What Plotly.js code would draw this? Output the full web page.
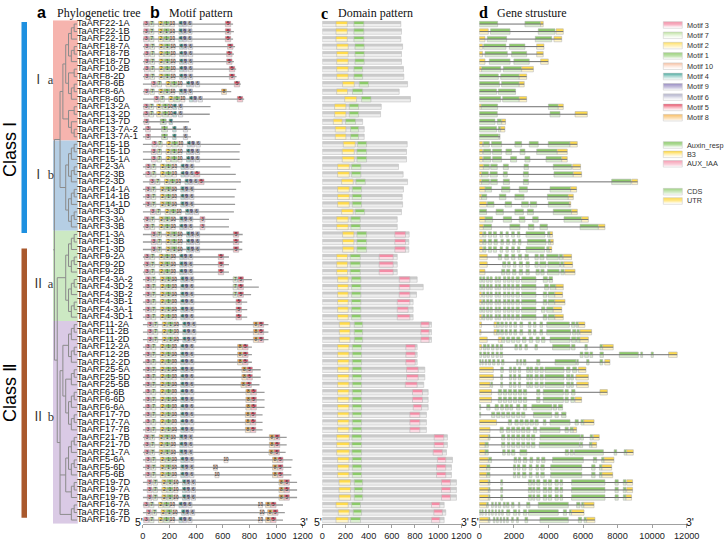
<!DOCTYPE html>
<html><head><meta charset="utf-8">
<script src="https://cdn.plot.ly/plotly-3.0.1.min.js"></script>
<style>html,body{margin:0;padding:0;background:#fff}#chart{width:725px;height:542px}</style>
</head><body><div id="chart"></div>
<script>
// ---------------- DATA ----------------
const genes = ["TaARF22-1A","TaARF22-1B","TaARF22-1D","TaARF18-7A","TaARF18-7B","TaARF18-7D","TaARF10-2B","TaARF8-2D","TaARF8-6B","TaARF8-6A","TaARF8-6D","TaARF13-2A","TaARF13-2D","TaARF13-7D","TaARF13-7A-2","TaARF13-7A-1","TaARF15-1B","TaARF15-1D","TaARF15-1A","TaARF2-3A","TaARF2-3B","TaARF2-3D","TaARF14-1A","TaARF14-1B","TaARF14-1D","TaARF3-3D","TaARF3-3A","TaARF3-3B","TaARF1-3A","TaARF1-3B","TaARF1-3D","TaARF9-2A","TaARF9-2D","TaARF9-2B","TaARF4-3A-2","TaARF4-3D-2","TaARF4-3B-2","TaARF4-3B-1","TaARF4-3A-1","TaARF4-3D-1","TaARF11-2A","TaARF11-2B","TaARF11-2D","TaARF12-2A","TaARF12-2B","TaARF12-2D","TaARF25-5A","TaARF25-5D","TaARF25-5B","TaARF6-6B","TaARF6-6D","TaARF6-6A","TaARF17-7D","TaARF17-7A","TaARF17-7B","TaARF21-7B","TaARF21-7D","TaARF21-7A","TaARF5-6A","TaARF5-6D","TaARF5-6B","TaARF19-7D","TaARF19-7A","TaARF19-7B","TaARF16-7A","TaARF16-7B","TaARF16-7D"];

// phylogenetic tree (topology)
const treeIa = "(((((22-1A,22-1B),22-1D),((18-7A,18-7B),18-7D)),((10-2B,8-2D),((8-6B,8-6A),8-6D))),((13-2A,13-2D),(13-7D,(13-7A-2,13-7A-1))))";
const treeIb = "((((15-1B,15-1D),15-1A),((2-3A,2-3B),2-3D)),(((14-1A,14-1B),14-1D),((3-3D,3-3A),3-3B)))";
const treeIIa = "((((1-3A,1-3B),1-3D),((9-2A,9-2D),9-2B)),(((4-3A-2,4-3D-2),4-3B-2),((4-3B-1,4-3A-1),4-3D-1)))";
const treeIIb = "(((((11-2A,11-2B),11-2D),((12-2A,12-2B),12-2D)),(((25-5A,25-5D),25-5B),(((6-6B,6-6D),6-6A),((17-7D,17-7A),17-7B)))),((((21-7B,21-7D),21-7A),((5-6A,5-6D),5-6B)),((19-7D,19-7A),19-7B)),((16-7A,16-7B),16-7D))";

const subgroupNames = ["Ⅰa","Ⅰb","Ⅱa","Ⅱb"];
const subgroupFirst = [0,16,28,40];
const subgroupLast  = [15,27,39,66];
const classNames = ["Class Ⅰ","Class Ⅱ"];

// protein length (aa)
const protLen = [678,684,678,693,684,684,701,704,736,664,761, 509,503,348,362,362, 733,727,727,658,698,736,701,690,693,684,647,647, 750,747,747,647,647,647,819,871,813,784,784,784, 943,943,943,819,819,819,885,885,876,914,914,914,899,899,899,1080,1080,1072,1124,1115,1115,1158,1158,1158,1052,1066,1052];

// motif start positions (aa); null = absent
const motif3Start = [8,8,8,13,13,13,13,13,65,11,86, 8,8,10,22,22, 70,65,65,23,23,53,22,22,22,58,14,14, 65,65,65,14,14,14,22,22,22,22,22,22, 37,37,37,22,22,22,22,22,22,22,22,22,22,22,22,14,14,14,22,22,22,34,34,34,8,28,8];
const motif7Start = [52,52,52,57,57,57,57,57,109,55,130, 50,50,null,null,null, 114,109,109,67,67,97,66,66,66,102,58,58, 109,109,109,58,58,58,66,66,66,66,66,66, 81,81,81,66,66,66,66,66,66,66,66,66,66,66,66,58,58,58,66,66,66,78,78,78,52,72,52];
const motif2Start = [118,118,118,123,123,123,123,123,175,121,196, 105,105,null,null,null, 180,175,175,133,133,163,132,132,132,168,124,124, 175,175,175,124,124,124,132,132,132,132,132,132, 147,147,147,132,132,132,132,132,132,132,132,132,132,132,132,124,124,124,132,132,132,144,144,144,118,138,118];
const motif1Start = [157,157,157,162,162,162,162,162,214,160,235, 148,148,132,142,142, 219,214,214,172,172,202,171,171,171,207,163,163, 214,214,214,163,163,163,171,171,171,171,171,171, 186,186,186,171,171,171,171,171,171,171,171,171,171,171,171,163,163,163,171,171,171,183,183,183,157,177,157];
const motif10Start = [208,208,208,213,213,213,213,213,265,211,286, 192,192,null,null,null, 270,265,265,223,223,253,222,222,222,258,214,214, 265,265,265,214,214,214,222,222,222,222,222,222, 237,237,237,222,222,222,222,222,222,222,222,222,222,222,222,214,214,214,222,222,222,234,234,234,208,228,208];
const motif4Start = [272,272,272,277,277,277,277,277,329,275,350, 228,228,198,225,225, 334,329,329,287,287,317,286,286,286,322,278,278, 329,329,329,278,278,278,286,286,286,286,286,286, 301,301,301,286,286,286,286,286,286,286,286,286,286,286,286,278,278,278,286,286,286,298,298,298,272,292,272];
const motif9Start = [302,302,302,307,307,307,307,307,359,305,380, null,null,null,null,null, 364,359,359,317,317,347,316,316,316,352,308,308, 359,359,359,308,308,308,316,316,316,316,316,316, 331,331,331,316,316,316,316,316,316,316,316,316,316,316,316,308,308,308,316,316,316,328,328,328,302,322,302];
const motif6Start = [338,338,338,343,343,343,343,343,395,341,416, 268,268,null,305,305, 400,395,395,353,353,383,352,352,352,388,344,344, 395,395,395,344,344,344,352,352,352,352,352,352, 367,367,367,352,352,352,352,352,352,352,352,352,352,352,352,344,344,344,352,352,352,364,364,364,338,358,338];
const motif5Start = [620,620,620,637,630,630,650,650,687,null,710, null,null,null,null,null, null,null,null,null,388,420,null,null,null,null,null,null, 680,680,680,567,567,567,715,715,715,700,700,700, 867,867,867,750,750,750,782,782,775,812,812,812,808,808,808,988,988,985,1012,1012,1012,1060,1060,1060,960,975,960];
const motif8Start = [null,null,null,null,null,null,null,null,null,592,null, null,null,null,null,null, null,null,null,null,null,null,null,null,null,null,null,null, null,null,null,null,null,null,null,null,null,null,null,null, 830,830,830,712,712,712,744,744,737,774,774,774,770,770,770,950,950,947,974,974,974,1022,1022,1022,922,937,922];
const motif7ExtraRows = [34,35,36];      const motif7ExtraStart = [678,678,678];
const motif3ExtraRows = [26,27];         const motif3ExtraStart = [430,430];
const motif10ExtraRows = [58,59,60,64,65,66]; const motif10ExtraStart = [610,530,542,868,880,868];
const motifIds = [3,7,2,1,10,4,9,6,5,8];
const motifWidth = [36,32,34,44,30,26,26,32,40,36];

// conserved domains (aa)
const b3Start = [118,118,118,124,124,124,124,124,175,124,193, 106,106,95,112,112, 181,172,172,132,132,167,132,132,132,167,124,124, 175,175,175,124,124,124,132,132,132,132,132,132, 147,147,147,132,132,132,132,132,132,132,132,132,132,132,132,124,124,124,132,132,132,144,144,144,118,138,118];
const b3End = [216,216,216,224,224,224,224,224,276,218,296, 204,204,172,204,204, 284,276,276,233,233,267,233,233,233,267,224,224, 273,273,273,218,218,218,224,224,224,224,224,224, 239,239,239,230,230,230,230,230,230,230,230,230,230,230,230,233,233,233,230,230,230,244,244,244,224,233,224];
const auxRespStart = [273,273,273,282,282,282,273,273,319,261,339, 233,233,201,244,244, 305,299,299,253,253,290,259,259,259,284,247,247, 299,299,299,241,241,241,253,253,253,253,253,253, 276,276,276,259,259,259,259,259,259,259,259,259,259,259,259,256,256,256,259,259,259,276,276,276,253,267,244];
const auxRespEnd = [359,359,359,362,362,362,348,348,399,348,420, 313,313,287,313,313, 382,382,382,333,333,371,339,339,339,365,328,328, 382,382,382,328,328,328,333,333,333,333,333,333, 348,348,348,339,339,339,339,339,339,339,339,339,339,339,339,339,339,339,339,339,339,348,348,348,330,339,330];
const auxIaaStart = [null,null,null,null,null,null,null,null,null,null,null, null,null,null,null,null, null,null,null,null,null,null,null,null,null,null,null,null, 626,626,626,491,491,491,664,664,664,647,647,647, 851,851,851,721,721,721,727,727,716,779,779,785,756,756,756,966,966,957,994,986,986,1029,1029,1029,943,963,943];
const auxIaaEnd = [null,null,null,null,null,null,null,null,null,null,null, null,null,null,null,null, null,null,null,null,null,null,null,null,null,null,null,null, 718,718,718,612,612,612,756,756,756,756,741,756, 922,922,922,802,802,802,828,828,819,865,865,857,842,842,842,1049,1049,1037,1066,1066,1066,1106,1106,1106,1014,1037,1014];

// gene structure (bp)
const geneLen = [3700,4860,4770,3740,3700,3990,3130,2740,2600,2100,2740, 4860,6250,1520,1480,1200, 5670,5090,5090,5860,5920,9160,5630,5440,5290,5670,6310,7270, 4240,4280,4190,5340,5400,5540,4240,4860,4820,4960,4770,4860, 6110,6500,6310,7750,11450,7560,6170,6310,6310,7410,5920,4820,5020,6640,5630,6940,6790,8910,7790,7660,7720,8870,8870,8810,6640,6060,6690];
const utrSegs = [
 [[3550,3700]],[[0,520],[4440,4860]],[[0,330],[4320,4770]],[[0,190],[3320,3740]],[[0,190],[3320,3700]],[[0,330],[3550,3990]],[[0,130],[2450,3130]],[[2310,2740]],[[2310,2600]],[],[[2310,2740]],
 [[0,100],[4570,4860]],[[5540,6250]],[[1300,1520]],[[1240,1480]],[],
 [[0,190],[5250,5670]],[[0,190],[4510,5090]],[[0,190],[4770,5090]],[[0,230],[5400,5860]],[[0,130],[5440,5920]],[[0,130],[8820,9160]],[[0,330],[5290,5630]],[[0,130],[5150,5440]],[[0,420],[5210,5290]],[[5340,5670]],[[0,330],[5920,6310]],[[0,230],[6890,7270]],
 [[0,190],[4090,4240]],[[0,190],[4130,4280]],[[0,190],[4050,4190]],[[0,460],[4860,5340]],[[0,460],[4900,5400]],[[0,330],[4950,5540]],[],[[4430,4860]],[[0,130],[4370,4820]],[[0,130],[4370,4960]],[[4280,4770]],[[0,130],[4370,4860]],
 [[0,130],[850,1000],[5730,6110]],[[0,100],[850,1000],[5830,6500]],[[0,460],[1100,1290],[5830,6310]],[[0,130],[7140,7750]],[[10950,11450]],[[7260,7560]],[[0,810],[5730,6170]],[[0,810],[5590,6310]],[[0,620],[5630,6310]],[[0,710],[6980,7410]],[[0,710],[5540,5920]],[],[],[[0,1000],[6050,6640]],[[0,620],[5440,5630]],[[0,520],[6600,6940]],[[0,330],[6520,6790]],[[0,330],[8530,8910]],[[0,520],[7220,7790]],[[0,420],[7100,7660]],[[0,420],[7100,7720]],[[0,520],[8530,8870]],[[0,520],[8530,8870]],[[0,520],[8490,8810]],[[0,420],[6050,6640]],[[5340,6060]],[[0,520],[6210,6690]]
];
const cdsSegs = [
 [[0,1060],[2640,3550]],[[650,1780],[3410,4380]],[[460,1580],[3240,4190]],[[250,1540],[1740,2640]],[[330,1620],[1870,2740]],[[580,1780],[2000,2890]],[[130,1240],[1390,2450]],[[0,1100],[1240,2310]],[[0,1160],[1290,2310]],[[0,1000],[1100,2100]],[[0,1240],[1350,2310]],
 [[100,1060],[4000,4570]],[[0,1040],[4090,4670]],[[0,910],[1040,1300]],[[0,1000],[1100,1240]],[[0,1120],[1160,1200]],
 [[230,580],[710,1290],[2060,2450],[2890,3410],[3990,5250]],
 [[230,660],[770,1290],[1540,1870],[2360,2640],[3320,4510]],
 [[230,660],[770,1290],[1810,2160],[2640,2930],[3860,4770]],
 [[230,580],[660,1040],[1390,1680],[2590,2840],[4280,5340]],
 [[130,520],[620,1040],[1390,1620],[2550,2840],[4320,5440]],
 [[130,580],[660,1040],[1390,1740],[2550,2840],[7660,8780]],
 [[330,710],[1290,1770],[2310,2780],[4090,5290]],
 [[130,430],[1160,1540],[2060,2590],[3940,5150]],
 [[460,850],[1490,1870],[2450,2840],[2940,3320],[3990,5210]],
 [[0,420],[970,1390],[2060,2550],[2780,3130],[4280,5340]],
 [[330,770],[1390,1870],[2310,2640],[3090,3410],[4900,5920]],
 [[230,710],[1770,2350],[2840,3160],[3510,3940],[5830,6890]],
 [[230,390],[520,710],[810,1000],[1200,1350],[1540,1680],[1870,2030],[2200,2350],[2700,3800],[3950,4090]],
 [[230,390],[520,710],[850,1040],[1250,1390],[1580,1740],[1930,2080],[2260,2410],[2780,3860],[3990,4130]],
 [[230,390],[520,710],[810,1000],[1200,1350],[1540,1680],[1870,2030],[2200,2350],[2700,3780],[3900,4050]],
 [[1100,1290],[1480,1680],[1870,2060],[2260,2450],[2640,2840],[3220,3410],[3510,3740],[3900,4570],[4630,4820]],
 [[1350,1540],[1640,1790],[1970,2120],[2310,2500],[2700,2890],[3220,3410],[3500,3860],[3970,4650],[4700,4880]],
 [[1290,1480],[1580,1770],[1930,2120],[2310,2500],[2700,2890],[3280,3470],[3560,3750],[3940,4620],[4720,4910]],
 [[0,135],[190,330],[420,560],[620,750],[910,1040],[1100,1240],[1390,1540],[1620,1780],[1870,2010],[2120,2320],[2450,3280],[3700,3940],[4030,4240]],
 [[0,135],[190,330],[420,560],[620,750],[910,1040],[1100,1240],[1390,1540],[1620,1780],[1870,2010],[2120,2320],[2450,3280],[3780,4000],[4090,4430]],
 [[190,330],[420,560],[620,750],[910,1040],[1100,1240],[1390,1540],[1620,1780],[1870,2010],[2120,2320],[2450,3280],[3700,3900],[3990,4370]],
 [[190,330],[420,560],[620,750],[910,1040],[1100,1240],[1390,1540],[1620,1780],[1870,2010],[2120,2320],[2450,3280],[3700,3900],[3990,4370]],
 [[0,135],[190,330],[420,560],[620,750],[910,1040],[1100,1240],[1390,1540],[1620,1780],[1870,2010],[2120,2320],[2450,3280],[3600,3800],[3900,4280]],
 [[190,330],[420,560],[620,750],[910,1040],[1100,1240],[1390,1540],[1620,1780],[1870,2010],[2120,2320],[2450,3280],[3700,3900],[3990,4370]],
 [[1000,1160],[1240,1390],[1490,1620],[1740,1870],[2000,2160],[2350,2510],[2840,2990],[3130,3280],[3510,3660],[3900,5210],[5340,5530],[5590,5730]],
 [[1000,1160],[1240,1390],[1490,1620],[1740,1870],[2000,2160],[2350,2510],[2840,2990],[3130,3280],[3510,3660],[3900,5280],[5400,5590],[5650,5790]],
 [[1290,1480],[1580,1770],[1870,2060],[2160,2350],[2500,2700],[2890,3090],[3280,3470],[3600,3800],[4090,5250],[5340,5590],[5630,5830]],
 [[230,390],[460,580],[710,850],[970,1100],[1200,1350],[2060,2200],[2310,2450],[2640,2780],[3220,3360],[4240,5250],[5340,5540],[6110,6250],[6980,7140]],
 [[0,130],[230,390],[460,580],[710,850],[970,1100],[1200,1350],[5830,6000],[6100,6310],[6400,6560],[6980,7180],[8100,9200],[9340,9450],[9940,10070]],
 [[0,100],[160,230],[330,430],[520,660],[770,910],[1040,1160],[1290,1430],[2160,2250],[2350,2450],[2550,2700],[3320,3510],[4380,5590],[5630,5730],[6210,6350],[6980,7140]],
 [[1240,1390],[1740,1870],[1970,2120],[2260,2390],[2740,2890],[2930,3090],[3220,3410],[3510,3700],[3800,4900],[5050,5250],[5400,5630]],
 [[1240,1350],[1740,1870],[1970,2120],[2260,2390],[2740,2890],[2930,3090],[3220,3410],[3510,3700],[3800,4900],[5050,5250],[5300,5440]],
 [[660,770],[1240,1350],[1740,1870],[1970,2120],[2260,2390],[2740,2890],[2930,3090],[3220,3410],[3510,3700],[3800,4900],[5050,5250],[5300,5440]],
 [[1100,1290],[1390,1580],[1680,1870],[1970,2160],[2260,2450],[2550,2740],[3320,3510],[3700,4860],[4960,5150],[5340,5540]],
 [[1100,1290],[1390,1580],[1680,1870],[1970,2160],[2260,2450],[2550,2740],[3320,3510],[3700,4860],[4960,5150],[5300,5500]],
 [[0,80],[430,620],[910,1100],[1240,1390],[1500,1680],[1770,1930],[2160,2350],[2550,2740],[3040,4200],[4280,4470],[4570,4820]],
 [[0,80],[710,900],[1000,1200],[1290,1480],[1580,1770],[1870,2060],[2160,2350],[2450,2640],[3130,4190],[4380,4570],[4760,5020]],
 [[1680,1870],[2060,2250],[2350,2540],[2640,2840],[2930,3130],[3220,3410],[3700,3860],[4090,5250],[5540,5730],[5880,6050]],
 [[1200,1390],[1580,1770],[1870,2060],[2160,2350],[2450,2640],[2740,2930],[3130,3320],[3510,4670],[4960,5150],[5250,5440]],
 [[520,620],[1290,1480],[1620,1770],[1870,2060],[2160,2350],[2450,2640],[2740,2930],[3020,3220],[3510,5830],[5870,6020],[6410,6560]],
 [[330,520],[1290,1480],[1620,1770],[1870,2060],[2160,2350],[2450,2640],[2740,2930],[3020,3220],[3470,5790],[5830,5980],[6370,6520]],
 [[330,520],[1350,1500],[1620,1770],[1870,2060],[2350,2750],[4970,5160],[5250,5440],[5500,7180],[7800,7950],[8380,8530]],
 [[520,710],[2010,2160],[2260,2390],[2550,2740],[2930,3090],[3320,3470],[3610,3800],[4240,6020],[6600,6790],[7080,7220]],
 [[420,620],[1970,2100],[2200,2350],[2500,2700],[2890,3050],[3280,3430],[3560,3760],[4130,5930],[6500,6700],[6950,7100]],
 [[420,620],[1970,2100],[2200,2350],[2500,2700],[2890,3050],[3280,3430],[3560,3760],[4130,5930],[6500,6700],[6950,7100]],
 [[520,620],[1240,1350],[2840,3030],[3090,3220],[3320,3510],[3700,3900],[3990,4190],[4380,4570],[4670,4820],[5340,7270],[7850,8040],[8330,8490]],
 [[520,620],[1240,1350],[2840,3030],[3090,3220],[3320,3510],[3700,3900],[3990,4190],[4380,4570],[4670,4820],[5340,7270],[7850,8040],[8330,8490]],
 [[520,620],[1240,1350],[2840,3030],[3090,3220],[3320,3510],[3700,3900],[3990,4190],[4380,4570],[4670,4820],[5340,7270],[7850,8040],[8330,8490]],
 [[420,520],[710,810],[910,1000],[1100,1240],[1390,1500],[1580,1720],[1870,2010],[2260,2350],[2740,2930],[3410,5150],[5630,5830],[5920,6050]],
 [[0,80],[140,230],[330,420],[520,620],[710,810],[910,1000],[1100,1200],[1290,1390],[1580,1770],[1970,2160],[2260,2350],[2550,2740],[2840,4570],[4860,5050],[5210,5340]],
 [[520,620],[810,910],[1000,1100],[1200,1290],[1390,1480],[1580,1680],[1870,1970],[2160,2260],[2640,2800],[3510,5150],[5730,5920],[6060,6210]]
];

const protTicks = [0,200,400,600,800,1000,1200];
const geneTicks = [0,2000,4000,6000,8000,10000,12000];

// ---------------- STYLE ----------------
const W = 725, H = 542;
const px = p => p / W, py = p => 1 - p / H;
const SANS = "Liberation Sans, Arial, sans-serif";
const SERIF = "Liberation Serif, Times New Roman, Noto Sans CJK SC, serif";
const motifColor = ['#F27C9A','#BDE3A0','#FFD633','#7CC355','#F9C4A8','#1E9688','#7565AD','#B2B2CC','#E8334F','#F7A52B'];
const colAux = '#7CC355', colB3 = '#FFD633', colIaa = '#F27C9A', colCDS = '#7CC355', colUTR = '#FFD633';
function mix(hex, t) {
  const n = parseInt(hex.slice(1), 16);
  let r = n >> 16 & 255, g = n >> 8 & 255, b = n & 255;
  r = Math.round(r + (255 - r) * t); g = Math.round(g + (255 - g) * t); b = Math.round(b + (255 - b) * t);
  return `rgb(${r},${g},${b})`;
}

const traces = [], shapes = [], annotations = [];

// ---------------- TREE ----------------
function parseNewick(s) {
  let i = 0;
  function node() {
    if (s[i] === '(') {
      i++; const ch = [node()];
      while (s[i] === ',') { i++; ch.push(node()); }
      i++; return { ch };
    }
    let name = '';
    while (i < s.length && !',()'.includes(s[i])) name += s[i++];
    return { name: name.trim() };
  }
  return node();
}
const root = parseNewick("((" + treeIa + "," + treeIb + "),(" + treeIIa + "," + treeIIb + "))");
function layoutTree(n) {
  if (n.name !== undefined) { n.y = genes.indexOf('TaARF' + n.name); n.h = 0; return; }
  n.ch.forEach(layoutTree);
  n.h = 1 + Math.max(...n.ch.map(c => c.h));
  n.y = (n.ch[0].y + n.ch[n.ch.length - 1].y) / 2;
}
layoutTree(root);
const tx = [], ty = [];
(function draw(n) {
  if (!n.ch) return;
  tx.push(-n.h, -n.h, null); ty.push(n.ch[0].y, n.ch[n.ch.length - 1].y, null);
  n.ch.forEach(c => { tx.push(-n.h, -c.h, null); ty.push(c.y, c.y, null); draw(c); });
})(root);
tx.push(-root.h - 0.4, -root.h, null); ty.push(root.y, root.y, null);
traces.push({ type: 'scatter', mode: 'lines', x: tx, y: ty, xaxis: 'x', yaxis: 'y',
  line: { color: '#8c8c8c', width: 1 }, hoverinfo: 'skip', cliponaxis: false });
traces.push({ type: 'scatter', mode: 'text', x: genes.map(() => 0), y: genes.map((g, i) => i), text: genes,
  textposition: 'middle right', textfont: { family: SANS, size: 9.2, color: '#111' },
  xaxis: 'x', yaxis: 'y', cliponaxis: false, hoverinfo: 'skip' });

// ---------------- helpers ----------------
function segBars(axis, rows, starts, ends, color, border) {
  const w = ends.map((e, k) => e - starts[k]);
  const h = 0.72;
  traces.push({ type: 'bar', orientation: 'h', xaxis: axis, yaxis: 'y', y: rows, x: w, base: starts, width: h,
    marker: { color: mix(color, 0.72), line: { width: 0 } }, hoverinfo: 'skip' });
  traces.push({ type: 'bar', orientation: 'h', xaxis: axis, yaxis: 'y', y: rows, x: w, base: starts, width: h * 0.5, offset: -h / 2,
    marker: { color: mix(color, 0.12), line: { width: 0 } }, hoverinfo: 'skip' });
  traces.push({ type: 'bar', orientation: 'h', xaxis: axis, yaxis: 'y', y: rows, x: w, base: starts, width: h,
    marker: { color: 'rgba(0,0,0,0)', line: { width: 0.6, color: border || '#b9b9b9' } }, hoverinfo: 'skip' });
}
function hLines(axis, lens, color, width) {
  const x = [], y = [];
  lens.forEach((L, i) => { x.push(0, L, null); y.push(i, i, null); });
  traces.push({ type: 'scatter', mode: 'lines', x, y, xaxis: axis, yaxis: 'y', line: { color, width }, hoverinfo: 'skip' });
}

// ---------------- b: motif pattern ----------------
hLines('x2', protLen, '#9a9a9a', 1.3);
const motifStarts = [motif3Start, motif7Start, motif2Start, motif1Start, motif10Start, motif4Start, motif9Start, motif6Start, motif5Start, motif8Start];
const extras = { 3: [motif3ExtraRows, motif3ExtraStart], 7: [motif7ExtraRows, motif7ExtraStart], 10: [motif10ExtraRows, motif10ExtraStart] };
const lblX = [], lblY = [], lblT = [];
motifIds.forEach((id, m) => {
  const rows = [], st = [], en = [];
  motifStarts[m].forEach((s, i) => { if (s !== null) { rows.push(i); st.push(s); en.push(s + motifWidth[m]); } });
  if (extras[id]) extras[id][0].forEach((r, k) => { rows.push(r); st.push(extras[id][1][k]); en.push(extras[id][1][k] + motifWidth[m]); });
  segBars('x2', rows, st, en, motifColor[m], '#b0b0b0');
  rows.forEach((r, k) => { lblX.push((st[k] + en[k]) / 2); lblY.push(r); lblT.push(String(id)); });
});
traces.push({ type: 'scatter', mode: 'text', x: lblX, y: lblY, text: lblT, xaxis: 'x2', yaxis: 'y',
  textfont: { family: SANS, size: 4.6, color: '#333' }, hoverinfo: 'skip', cliponaxis: false });

// ---------------- c: domain pattern ----------------
segBars('x3', genes.map((g, i) => i), protLen.map(() => 0), protLen, '#c4c4c4', '#c2c2c2');
segBars('x3', genes.map((g, i) => i), b3Start, b3End, colB3);
segBars('x3', genes.map((g, i) => i), auxRespStart, auxRespEnd, colAux);
(function () {
  const rows = [], s = [], e = [];
  auxIaaStart.forEach((v, i) => { if (v !== null) { rows.push(i); s.push(v); e.push(auxIaaEnd[i]); } });
  segBars('x3', rows, s, e, colIaa);
})();

// ---------------- d: gene structure ----------------
hLines('x4', geneLen, '#707070', 1);
(function () {
  const cr = [], cs = [], ce = [], ur = [], us = [], ue = [];
  cdsSegs.forEach((segs, i) => segs.forEach(([a, b]) => { cr.push(i); cs.push(a); ce.push(b); }));
  utrSegs.forEach((segs, i) => segs.forEach(([a, b]) => { ur.push(i); us.push(a); ue.push(b); }));
  segBars('x4', cr, cs, ce, colCDS);
  segBars('x4', ur, us, ue, colUTR);
})();

// ---------------- backgrounds & class bars ----------------
const groupFill = ['#F6B4AE', '#B5CEE4', '#CCE9C3', '#DACAE5'];
subgroupFirst.forEach((f, k) => {
  shapes.push({ type: 'rect', layer: 'below', xref: 'paper', yref: 'y', x0: px(53), x1: px(77.8), y0: f - 0.5, y1: subgroupLast[k] + 0.5, fillcolor: groupFill[k], line: { width: 0 } });
});
shapes.push({ type: 'rect', xref: 'paper', yref: 'y', x0: px(21.5), x1: px(27), y0: -0.27, y1: 27.8, fillcolor: '#1E90E0', line: { width: 0 } });
shapes.push({ type: 'rect', xref: 'paper', yref: 'y', x0: px(21.5), x1: px(27), y0: 29.85, y1: 65.7, fillcolor: '#A9592D', line: { width: 0 } });

// ---------------- text ----------------
function ann(text, x, y, opt) {
  annotations.push(Object.assign({ text, x: px(x), y: py(y), xref: 'paper', yref: 'paper', showarrow: false,
    xanchor: 'center', yanchor: 'middle', font: { family: SANS, size: 12, color: '#111' } }, opt || {}));
}
ann('<b>a</b>', 41, 12, { font: { family: SANS, size: 16, color: '#000' } });
ann('Phylogenetic tree', 55, 13, { xanchor: 'left', font: { family: SERIF, size: 12, color: '#111' } });
ann('<b>b</b>', 155, 12, { font: { family: SANS, size: 16, color: '#000' } });
ann('Motif pattern', 167, 13, { xanchor: 'left', font: { family: SERIF, size: 12, color: '#111' } });
ann('<b>c</b>', 324, 13, { font: { family: SERIF, size: 16, color: '#000' } });
ann('Domain pattern', 336, 13, { xanchor: 'left', font: { family: SERIF, size: 12, color: '#111' } });
ann('<b>d</b>', 483, 12, { font: { family: SERIF, size: 16, color: '#000' } });
ann('Gene strusture', 495, 13, { xanchor: 'left', font: { family: SERIF, size: 12, color: '#111' } });
ann(classNames[0], 10, 150, { textangle: -90, font: { family: SANS, size: 18, color: '#000' } });
ann(classNames[1], 10, 393, { textangle: -90, font: { family: SANS, size: 18, color: '#000' } });
const subY = [80, 175, 284, 417];
subgroupNames.forEach((n, k) => ann(n.replace(/([ⅠⅡ])/, '$1 '), 43, subY[k], { font: { family: SERIF, size: 12.5, color: '#333' } }));
// 5'/3' labels
[[139, 304], [318, 465], [475, 690]].forEach(([a, b]) => {
  ann("5'", a, 522, { font: { family: SANS, size: 10.5, color: '#111' } });
  ann("3'", b, 522, { font: { family: SANS, size: 10.5, color: '#111' } });
});

// ---------------- legend ----------------
function gradBox(cy, color) {
  const x0 = 663.3, x1 = 682.3, h = 6.6, n = 6;
  for (let k = 0; k < n; k++) {
    const t = k / (n - 1);
    shapes.push({ type: 'rect', xref: 'paper', yref: 'paper', x0: px(x0), x1: px(x1),
      y0: py(cy - h / 2 + h * k / n), y1: py(cy - h / 2 + h * (k + 1) / n), fillcolor: mix(color, 0.05 + 0.9 * t), line: { width: 0 } });
  }
  shapes.push({ type: 'rect', xref: 'paper', yref: 'paper', x0: px(x0), x1: px(x1), y0: py(cy - h / 2), y1: py(cy + h / 2),
    fillcolor: 'rgba(0,0,0,0)', line: { color: '#cfcfcf', width: 0.6 } });
}
const LEGFONT = { family: SANS, size: 7.3, color: '#333' };
const legMotifY = [25, 35.3, 45.6, 55.9, 66.2, 76.5, 86.8, 97.1, 107.4, 117.7];
motifIds.forEach((id, m) => {
  gradBox(legMotifY[m], motifColor[m]);
  ann('Motif ' + id, 684.5, legMotifY[m], { xanchor: 'left', font: LEGFONT });
});
const domNames = ['Auxin_resp', 'B3', 'AUX_IAA'], domCols = [colAux, colB3, colIaa], domY = [145, 154.3, 163.8];
domNames.forEach((n, k) => { gradBox(domY[k], domCols[k]); ann(n, 684.5, domY[k], { xanchor: 'left', font: LEGFONT }); });
const genePartNames = ['CDS', 'UTR'], genePartCols = [colCDS, colUTR], genePartY = [191.7, 201];
genePartNames.forEach((n, k) => { gradBox(genePartY[k], genePartCols[k]); ann(n, 684.5, genePartY[k], { xanchor: 'left', font: LEGFONT }); });

// ---------------- axes ----------------
function xax(d0, d1, max, tv) {
  return { domain: [px(d0), px(d1)], range: [0, max], anchor: 'y', showgrid: false, zeroline: false,
    showline: true, linecolor: '#a0a0a0', linewidth: 1.6, ticks: 'outside', ticklen: 3, tickwidth: 1, tickcolor: '#a0a0a0',
    tickmode: 'array', tickvals: tv, ticktext: tv.map(String), tickfont: { family: SANS, size: 9.2, color: '#222' }, fixedrange: true };
}
const layout = {
  width: W, height: H, margin: { l: 0, r: 0, t: 0, b: 0 }, paper_bgcolor: '#fff', plot_bgcolor: 'rgba(0,0,0,0)',
  showlegend: false, barmode: 'overlay', hovermode: false,
  xaxis: { domain: [px(53), px(77)], range: [-root.h - 0.5, 0], visible: false, anchor: 'y', fixedrange: true },
  xaxis2: xax(142.7, 302.7, 1200, protTicks),
  xaxis3: xax(322.3, 461.3, 1200, protTicks),
  xaxis4: xax(479.3, 686.7, 12000, geneTicks),
  yaxis: { domain: [py(523.8), py(20.3)], range: [66.5, -0.5], visible: false, anchor: 'x', fixedrange: true },
  shapes, annotations
};
Plotly.newPlot('chart', traces, layout, { staticPlot: true, displayModeBar: false });
</script>
</body></html>
